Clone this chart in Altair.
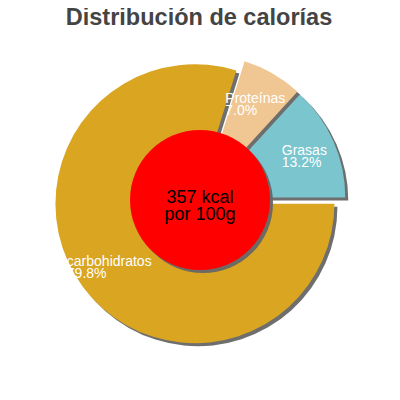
import altair as alt
import pandas as pd

# ---- data ----
categories = ["carbohidratos", "Proteínas", "Grasas"]
percents = [79.8, 7.0, 13.2]
colors = ["#daa520", "#f0c692", "#7ac5ce"]
kcal = [357]
per_label = ["por 100g"]
title_text = "Distribución de calorías"

df = pd.DataFrame({"cat": categories, "value": percents, "order": list(range(len(categories)))})
center_df = pd.DataFrame({"kcal": kcal, "per": per_label})
title_df = pd.DataFrame({"t": [title_text]})

W = H = 384
R = 139.5
EXPLODE = 6.3
LABEL_R = 105
HOLE_R = 70
FONT = "Liberation Sans, Arial, Helvetica, sans-serif"

xs = alt.Scale(domain=[-W / 2, W / 2], nice=False, zero=False)
ys = alt.Scale(domain=[-H / 2, H / 2], nice=False, zero=False, reverse=True)

base = (
    alt.Chart(df)
    .transform_window(cum="sum(value)", sort=[alt.SortField("order")], frame=[None, 0])
    .transform_joinaggregate(total="sum(value)")
    .transform_calculate(
        start="PI/2 + 2*PI*(datum.cum - datum.value)/datum.total",
        end="PI/2 + 2*PI*datum.cum/datum.total",
    )
    .transform_calculate(mid="(datum.start + datum.end)/2")
    .transform_calculate(
        dx=f"{EXPLODE}*sin(datum.mid)",
        dy=f"-{EXPLODE}*cos(datum.mid)",
    )
    .transform_calculate(
        lx=f"datum.dx + {LABEL_R}*sin(datum.mid) - 0.5*length(datum.cat)*6.7",
        ly=f"datum.dy - {LABEL_R}*cos(datum.mid)",
        label="datum.cat + '\\n' + format(datum.value, '.1f') + '%'",
    )
)

pos = dict(
    x=alt.X("dx:Q", scale=xs, axis=None),
    y=alt.Y("dy:Q", scale=ys, axis=None),
    theta=alt.Theta("start:Q", scale=None),
    theta2=alt.Theta2("end:Q"),
)

shadow = base.mark_arc(radius=R, xOffset=3, yOffset=3, color="#666666", opacity=0.95).encode(**pos)

slices = base.mark_arc(radius=R).encode(
    color=alt.Color("cat:N", scale=alt.Scale(domain=categories, range=colors), legend=None),
    **pos,
)

labels = base.mark_text(
    align="left", baseline="middle", lineBreak="\n", color="white",
    fontSize=14, lineHeight=12, font=FONT, dy=-4,
).encode(
    x=alt.X("lx:Q", scale=xs, axis=None),
    y=alt.Y("ly:Q", scale=ys, axis=None),
    text="label:N",
)

cx = alt.XDatum(0, scale=xs, axis=None)
cy = alt.YDatum(0, scale=ys, axis=None)

# Vega symbol size is the area of the bounding square: (2r)^2
hole_size = (2 * HOLE_R) ** 2

hole_shadow = alt.Chart(center_df).mark_circle(
    size=hole_size, color="#666666", opacity=0.95, xOffset=3, yOffset=3
).encode(x=cx, y=cy)

hole = alt.Chart(center_df).mark_circle(
    size=hole_size, color="#ff0000", opacity=1
).encode(x=cx, y=cy)

center_text = (
    alt.Chart(center_df)
    .transform_calculate(txt="datum.kcal + ' kcal\\n' + datum.per")
    .mark_text(align="center", baseline="middle", lineBreak="\n", color="black",
               fontSize=18, lineHeight=17, font=FONT, dy=-2)
    .encode(x=cx, y=cy, text="txt:N")
)

title = alt.Chart(title_df).mark_text(
    align="center", baseline="alphabetic", fontSize=23.5, fontWeight="bold",
    color="#444444", font=FONT, dx=-1,
).encode(x=cx, y=alt.value(16.5), text="t:N")

chart = (
    alt.layer(shadow, slices, labels, hole_shadow, hole, center_text, title)
    .properties(width=W, height=H, autosize="none", padding=0, background="white")
    .configure_view(stroke=None)
)

chart.save("out.html", embed_options={"renderer": "svg", "actions": False})
